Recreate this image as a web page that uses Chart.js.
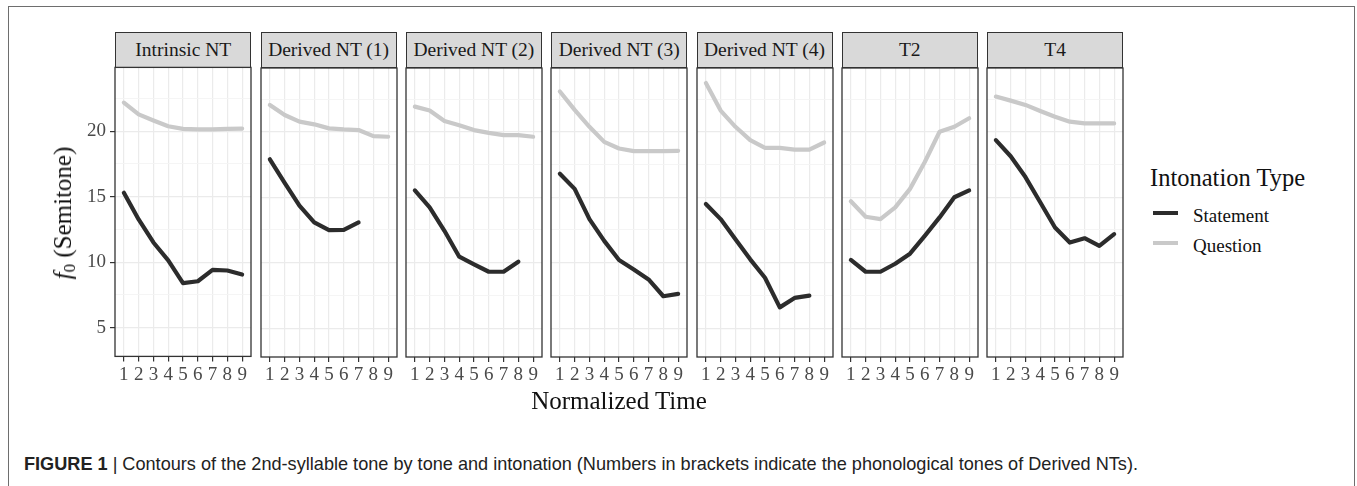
<!DOCTYPE html>
<html>
<head>
<meta charset="utf-8">
<script src="https://cdn.jsdelivr.net/npm/chart.js@4.4.1/dist/chart.umd.min.js"></script>
<style>
  html, body { margin: 0; padding: 0; background: #fff; }
  #fig { position: relative; width: 1357px; height: 486px; overflow: hidden; font-family: "Liberation Serif", serif; }
  .frame { position: absolute; left: 8px; top: 6px; width: 1345px; height: 520px; border: 1.5px solid #6e6e6e; }
  .strip { position: absolute; top: 32px; height: 36px; background: #d9d9d9; border: 1.3px solid #333;
           box-sizing: border-box; font-size: 19.5px; color: #1a1a1a; text-align: center; line-height: 34px; }
  .panel { position: absolute; }
  .t { position: absolute; white-space: nowrap; color: #111; }
  .key { position: absolute; width: 25px; height: 4px; }
</style>
</head>
<body>
<div id="fig">
  <div class="frame"></div>
</div>
<script>
// facets and x ticks
const facets = ["Intrinsic NT", "Derived NT (1)", "Derived NT (2)", "Derived NT (3)", "Derived NT (4)", "T2", "T4"]
const timePoints = [1, 2, 3, 4, 5, 6, 7, 8, 9]
const yTicks = [5, 7.5, 10, 12.5, 15, 17.5, 20, 22.5]

// Statement contours (semitone), one array per facet
const stIntrinsic = [15.3, 13.26, 11.5, 10.13, 8.4, 8.54, 9.41, 9.36, 9.05]
const stDerived1  = [17.9, 16.1, 14.36, 13.08, 12.49, 12.51, 13.08]
const stDerived2  = [15.52, 14.23, 12.44, 10.46, 9.87, 9.31, 9.31, 10.08]
const stDerived3  = [16.8, 15.64, 13.33, 11.67, 10.21, 9.49, 8.72, 7.44, 7.62]
const stDerived4  = [14.49, 13.33, 11.8, 10.26, 8.85, 6.59, 7.31, 7.49]
const stT2        = [10.21, 9.31, 9.31, 9.92, 10.69, 12.05, 13.46, 15.0, 15.52]
const stT4        = [19.36, 18.13, 16.54, 14.62, 12.69, 11.54, 11.87, 11.28, 12.18]

// Question contours
const qIntrinsic = [22.18, 21.28, 20.82, 20.38, 20.18, 20.13, 20.13, 20.18, 20.2]
const qDerived1  = [22.05, 21.28, 20.77, 20.57, 20.26, 20.18, 20.13, 19.67, 19.62]
const qDerived2  = [21.92, 21.62, 20.82, 20.5, 20.13, 19.92, 19.74, 19.74, 19.62]
const qDerived3  = [23.08, 21.67, 20.38, 19.23, 18.72, 18.52, 18.52, 18.52, 18.54]
const qDerived4  = [23.72, 21.62, 20.38, 19.36, 18.77, 18.77, 18.64, 18.64, 19.18]
const qT2        = [14.69, 13.51, 13.33, 14.23, 15.64, 17.69, 20.0, 20.38, 21.03]
const qT4        = [22.69, 22.38, 22.05, 21.59, 21.15, 20.77, 20.64, 20.64, 20.64]

const statementSeries = [stIntrinsic, stDerived1, stDerived2, stDerived3, stDerived4, stT2, stT4]
const questionSeries  = [qIntrinsic, qDerived1, qDerived2, qDerived3, qDerived4, qT2, qT4]

const STATEMENT_COLOR = "#2c2c2c"
const QUESTION_COLOR = "#c9c9c9"

// layout of the facets (pixels in the 1357x486 page)
const PANEL_X0 = 115.3
const PANEL_STEP = 145.3
const PANEL_W = 136
const PANEL_TOP = 67.5
const PANEL_H = 289
const fig = document.getElementById("fig")

// box around each panel, drawn on top like ggplot's panel.border
const panelBox = {
  id: "panelBox",
  afterDraw(chart) {
    const { ctx, chartArea: a } = chart
    ctx.save()
    ctx.strokeStyle = "#333"
    ctx.lineWidth = 1.3
    ctx.strokeRect(a.left, a.top, a.right - a.left, a.bottom - a.top)
    ctx.restore()
  }
}

const toPoints = arr => arr.map((v, k) => ({ x: timePoints[k], y: v }))

facets.forEach((name, i) => {
  const left = PANEL_X0 + i * PANEL_STEP

  const strip = document.createElement("div")
  strip.className = "strip"
  strip.style.left = left + "px"
  strip.style.width = PANEL_W + "px"
  strip.textContent = name
  fig.appendChild(strip)

  const canvas = document.createElement("canvas")
  canvas.className = "panel"
  canvas.width = PANEL_W + 60
  canvas.height = PANEL_H + 60
  fig.appendChild(canvas)

  const first = i === 0
  const chart = new Chart(canvas, {
    type: "line",
    data: {
      datasets: [
        { label: "Statement", data: toPoints(statementSeries[i]), borderColor: STATEMENT_COLOR, borderWidth: 4.2,
          pointRadius: 0, tension: 0, borderCapStyle: "round", borderJoinStyle: "round" },
        { label: "Question", data: toPoints(questionSeries[i]), borderColor: QUESTION_COLOR, borderWidth: 4.2,
          pointRadius: 0, tension: 0, borderCapStyle: "round", borderJoinStyle: "round" },
      ],
    },
    options: {
      responsive: false,
      maintainAspectRatio: false,
      animation: false,
      events: [],
      layout: { padding: { top: 12, right: 4, left: 0, bottom: 0 } },
      plugins: { legend: { display: false }, tooltip: { enabled: false } },
      scales: {
        x: {
          type: "linear", min: 0.4, max: 9.6,
          afterBuildTicks: s => { s.ticks = timePoints.map(v => ({ value: v })) },
          afterFit: s => { s.height = 40 },
          border: { display: false },
          grid: { color: "#ebebeb", lineWidth: 1.2, tickColor: "#333", tickLength: 5 },
          ticks: { color: "#4a4a4a", padding: 2, maxRotation: 0, autoSkip: false,
                   font: { family: "Liberation Serif", size: 19 } },
        },
        y: {
          type: "linear", min: 2.8, max: 24.87,
          afterBuildTicks: s => { s.ticks = yTicks.map(v => ({ value: v })) },
          afterFit: s => { s.width = 48 },
          border: { display: false },
          grid: {
            color: c => (c.tick && c.tick.value % 5 === 0) ? "#ebebeb" : "#f4f4f4",
            lineWidth: c => (c.tick && c.tick.value % 5 === 0) ? 1.2 : 0.9,
            tickColor: c => (first && c.tick && c.tick.value % 5 === 0) ? "#333" : "rgba(0,0,0,0)",
            tickLength: 5,
          },
          ticks: {
            display: first, color: "#4a4a4a", padding: 4,
            font: { family: "Liberation Serif", size: 19 },
            callback: v => (v % 5 === 0 ? String(v) : ""),
          },
        },
      },
    },
    plugins: [panelBox],
  })

  // size the canvas so the plot area is exactly the facet box, then place it
  let a = chart.chartArea
  const w = canvas.width + (PANEL_W - (a.right - a.left))
  const h = canvas.height + (PANEL_H - (a.bottom - a.top))
  chart.resize(w, h)
  a = chart.chartArea
  canvas.style.left = (left - a.left) + "px"
  canvas.style.top = (PANEL_TOP - a.top) + "px"
})

// axis titles
function addText(html, css) {
  const d = document.createElement("div")
  d.className = "t"
  d.innerHTML = html
  Object.assign(d.style, css)
  fig.appendChild(d)
  return d
}

addText("Normalized Time", { left: "619px", top: "388px", fontSize: "25px", transform: "translateX(-50%)", lineHeight: "1" })
addText("<i>f</i><sub style='font-size:17px;vertical-align:-4px'>0</sub> (Semitone)",
  { left: "64px", top: "213px", fontSize: "25px", lineHeight: "1", transform: "translate(-50%,-50%) rotate(-90deg)" })

// legend
addText("Intonation Type", { left: "1150px", top: "166px", fontSize: "24.5px", lineHeight: "1" })
const keys = [["Statement", STATEMENT_COLOR, 211], ["Question", QUESTION_COLOR, 241]]
keys.forEach(([label, color, y]) => {
  const k = document.createElement("div")
  k.className = "key"
  k.style.left = "1153px"
  k.style.top = y + "px"
  k.style.background = color
  fig.appendChild(k)
  addText(label, { left: "1193px", top: (y - 5) + "px", fontSize: "19px", lineHeight: "1" })
})

// caption
const cap = addText("<b>FIGURE 1</b> | Contours of the 2nd-syllable tone by tone and intonation (Numbers in brackets indicate the phonological tones of Derived NTs).",
  { left: "24px", top: "454px", fontSize: "19px", lineHeight: "1", fontFamily: "'Liberation Sans', Arial, sans-serif",
    color: "#222", transformOrigin: "0 0" })
cap.style.transform = "scaleX(" + (1114 / cap.getBoundingClientRect().width) + ")"
</script>
</body>
</html>
